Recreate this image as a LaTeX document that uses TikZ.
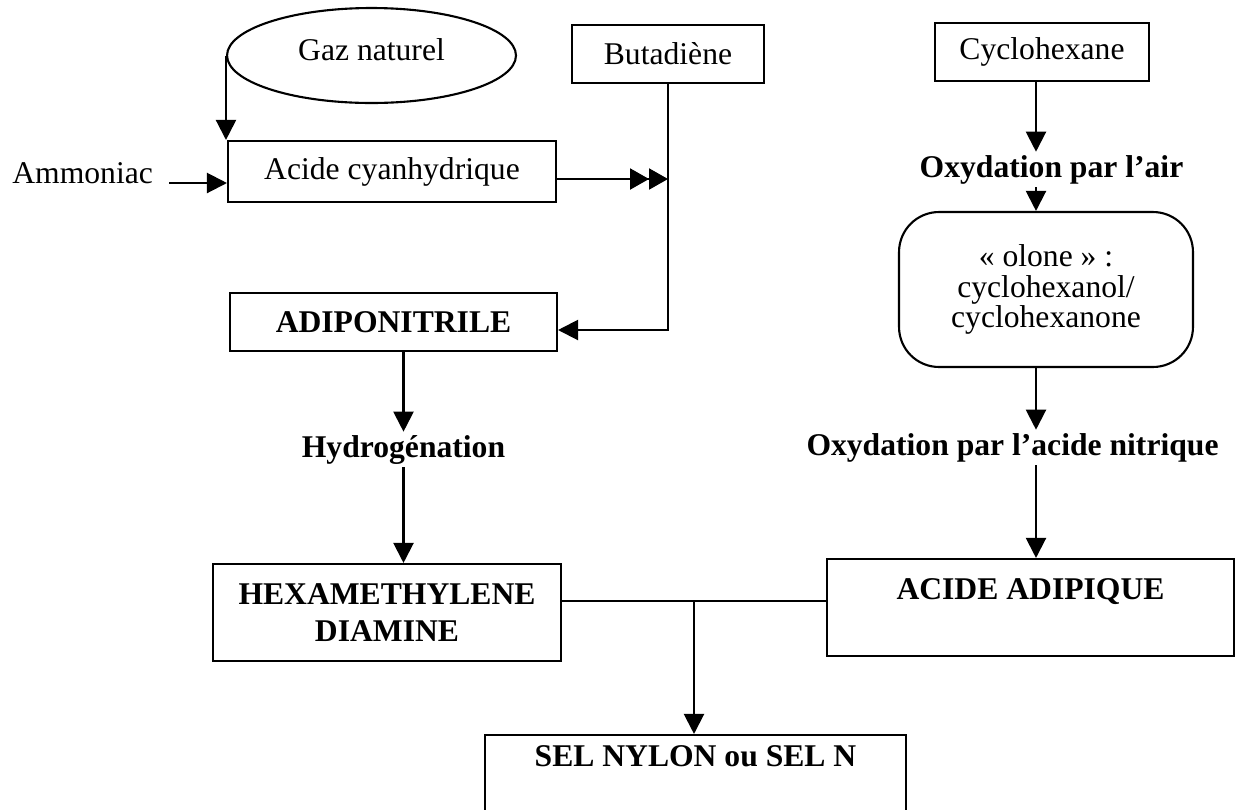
\documentclass[tikz,border=0pt]{standalone}
\usepackage{fontspec}
\setmainfont{Liberation Serif}
\usepackage{tikz}
\usetikzlibrary{positioning, arrows.meta, shapes.geometric}

\begin{document}
\begin{tikzpicture}[
    x=0.02cm, y=-0.02cm,
    arrow/.style={-{Triangle[length=0.4cm, width=0.4cm]}, line width=1.2pt},
    dblarrow/.style={-{Triangle[length=0.38cm, width=0.42cm, sep=0pt] Triangle[length=0.38cm, width=0.42cm]}, line width=1.2pt},
    link/.style={line width=1.2pt},
    box/.style={draw, rectangle, line width=1.2pt, inner sep=0pt, align=center,
                font=\fontsize{18}{21.6}\selectfont},
    boldbox/.style={box, font=\fontsize{18}{21}\selectfont\bfseries},
    tag/.style={inner sep=0.06cm, font=\fontsize{18}{21.6}\selectfont},
    boldtag/.style={tag, font=\fontsize{18}{21.6}\selectfont\bfseries}
]
    \useasboundingbox (0,0) rectangle (1237,809);
    \clip (0,0) rectangle (1237,809);

    % Matieres premieres
    \node[draw, ellipse, line width=1.2pt, minimum width=5.78cm, minimum height=1.9cm, inner sep=0pt,
          font=\fontsize{18}{21.6}\selectfont, text depth=0.25cm] (gaz) at (371.5,55.5) {Gaz naturel};
    \node[box, minimum width=3.84cm, minimum height=1.16cm] (buta) at (668,54) {Butadiène};
    \node[box, minimum width=4.28cm, minimum height=1.16cm] (cyclo) at (1042,52) {Cyclohexane};
    \node[tag, anchor=base west] (ammo) at (9,183) {Ammoniac};

    % Branche de gauche
    \node[box, minimum width=6.56cm, minimum height=1.22cm] (acide) at (392,171.5) {Acide cyanhydrique};
    \node[boldbox, minimum width=6.54cm, minimum height=1.16cm] (adipo) at (393.5,322) {ADIPONITRILE};
    \node[boldtag, anchor=base] (hydro) at (403.5,457) {Hydrogénation};
    \node[boldbox, minimum width=6.96cm, minimum height=1.94cm] (hexa) at (387,612.5) {HEXAMETHYLENE\\DIAMINE};

    % Branche de droite
    \node[boldtag, anchor=base] (air) at (1051.5,177) {Oxydation par l’air};
    \node[box, rounded corners=0.8cm, minimum width=5.88cm, minimum height=3.1cm,
          font=\fontsize{18}{17.5}\selectfont] (olone) at (1046,289.5) {«~olone~»~:\\cyclohexanol/\\cyclohexanone};
    \node[boldtag, anchor=base] (nitric) at (1012.5,455) {Oxydation par l’acide nitrique};
    \node[boldbox, minimum width=8.14cm, minimum height=1.94cm] (adipique) at (1030.5,607.5) {ACIDE ADIPIQUE\\\mbox{}};

    % Produit final
    \node[boldbox, minimum width=8.42cm, minimum height=1.56cm] (sel) at (695.5,774) {SEL NYLON ou SEL N\\\mbox{}};

    % Points de passage
    \coordinate (hcnout) at ([yshift=-0.15cm]acide.east);
    \coordinate (adipoin) at ([yshift=-0.16cm]adipo.east);
    \coordinate (rcol) at (1036,0);
    \coordinate (joint) at (694,601);

    % Liaisons
    \draw[arrow] (gaz.west) -- (gaz.west |- acide.north);
    \draw[arrow, shorten <=0.26cm] (ammo.base east) -- (ammo.base east -| acide.west);
    \draw[dblarrow] (hcnout) -- (hcnout -| buta.south);
    \draw[arrow] (buta.south) |- (adipoin);
    \draw[arrow] (hydro.north |- adipo.south) -- (hydro.north);
    \draw[arrow] (hydro.south) -- (hydro.south |- hexa.north);
    \draw[arrow] (cyclo.south -| rcol) -- (air.north -| rcol);
    \draw[arrow] (air.south -| rcol) -- (olone.north -| rcol);
    \draw[arrow] (olone.south -| rcol) -- (nitric.north -| rcol);
    \draw[arrow] (nitric.south -| rcol) -- (adipique.north -| rcol);
    \draw[link] (hexa.east |- joint) -- (adipique.west |- joint);
    \draw[arrow] (joint) -- (joint |- sel.north);

\end{tikzpicture}
\end{document}
